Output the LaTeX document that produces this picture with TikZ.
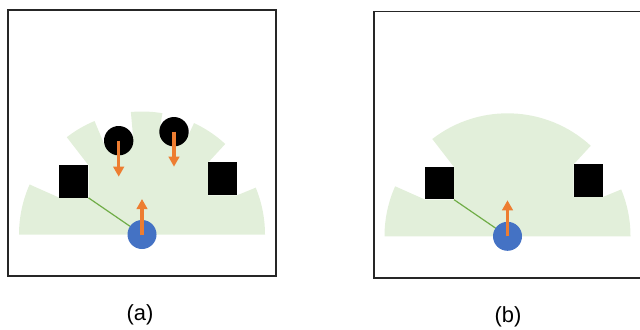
\documentclass[tikz,border=0pt]{standalone}
\usepackage{fontspec}
\setmainfont{Liberation Sans}
\usetikzlibrary{arrows.meta,positioning,backgrounds}
\definecolor{cFov}{RGB}{226,239,218}
\definecolor{cRobot}{RGB}{68,114,196}
\definecolor{cVel}{RGB}{237,125,49}
\definecolor{cLink}{RGB}{112,173,71}

\begin{document}
\begin{tikzpicture}[x=1bp, y=1bp,
  box/.style={draw=black!85, line width=1.2bp},
  robot/.style={circle, fill=cRobot, minimum size=29bp, inner sep=0pt},
  obst/.style={rectangle, fill=black, minimum width=29bp, minimum height=32.7bp, inner sep=0pt},
  ped/.style={circle, fill=black, minimum size=29.4bp, inner sep=0pt},
  vel/.style={cVel, line width=3.4bp, -{Triangle[width=10.5bp,length=10bp]}},
  link/.style={cLink, line width=1.2bp},
  lbl/.style={font=\fontsize{22}{26}\selectfont}]
\useasboundingbox (0,0) rectangle (640,329);
% (a): range scan blocked by boxes and people
\draw[box] (8,53) rectangle (276,319);
\coordinate (ca) at (142,94.5);
\node[obst] (sqLa) at (73.8,147.7) {};
\node[obst] (sqRa) at (222.8,150.2) {};
\node[ped] (pa1) at (118.7,188.3) {};
\node[ped] (pa2) at (174,197.3) {};
\node[robot] (ra) at (ca) {};
\coordinate[below=36bp of pa1.center] (pa1v);
\coordinate[below=35bp of pa2.center] (pa2v);
\coordinate[above=35.5bp of ra.center] (rav);
\begin{scope}[on background layer]
\fill[cFov] (ca) -- ++(156:123) arc[start angle=156, end angle=180, radius=123] -- cycle
  (ca) -- ++(112.7:123) arc[start angle=112.7, end angle=127.7, radius=123] -- cycle
  (ca) -- ++(80.45:123) arc[start angle=80.45, end angle=95.2, radius=123] -- cycle
  (ca) -- ++(47.4:123) arc[start angle=47.4, end angle=64.97, radius=123] -- cycle
  (ca) -- ++(0:123) arc[start angle=0, end angle=22.4, radius=123] -- cycle
  (ca) -- ++(95.2:95.5) arc[start angle=95.2, end angle=112.7, radius=95.5] -- cycle
  (ca) -- ++(64.97:106.7) arc[start angle=64.97, end angle=80.45, radius=106.7] -- cycle
  (ca) -- (sqLa.north east) -- (sqLa.south east) -- (sqLa.south west) -- cycle
  (ca) -- (sqRa.south east) -- (sqRa.south west) -- (sqRa.north west) -- cycle;
\draw[link] (sqLa.south east) -- (ca);
\end{scope}
\draw[vel] (pa1.center) -- (pa1v);
\draw[vel] (pa2.center) -- (pa2v);
\draw[vel] (ra.center) -- (rav);
\node[lbl] (la) at (140,14) {(a)};
% (b): same scene without people
\draw[box] (374,51) rectangle (642,317.3);
\coordinate (cb) at (507.5,92.7);
\node[obst] (sqLb) at (439.3,145.9) {};
\node[obst] (sqRb) at (588.3,148.4) {};
\node[robot] (rb) at (cb) {};
\coordinate[above=36bp of rb.center] (rbv);
\begin{scope}[on background layer]
\fill[cFov] (cb) -- ++(156:123) arc[start angle=156, end angle=180, radius=123] -- cycle
  (cb) -- ++(47.4:123) arc[start angle=47.4, end angle=127.7, radius=123] -- cycle
  (cb) -- ++(0:123) arc[start angle=0, end angle=22.4, radius=123] -- cycle
  (cb) -- (sqLb.north east) -- (sqLb.south east) -- (sqLb.south west) -- cycle
  (cb) -- (sqRb.south east) -- (sqRb.south west) -- (sqRb.north west) -- cycle;
\draw[link] (sqLb.south east) -- (cb);
\end{scope}
\draw[vel] (rb.center) -- (rbv);
\node[lbl] (lb) at (508,12.5) {(b)};
\end{tikzpicture}
\end{document}
